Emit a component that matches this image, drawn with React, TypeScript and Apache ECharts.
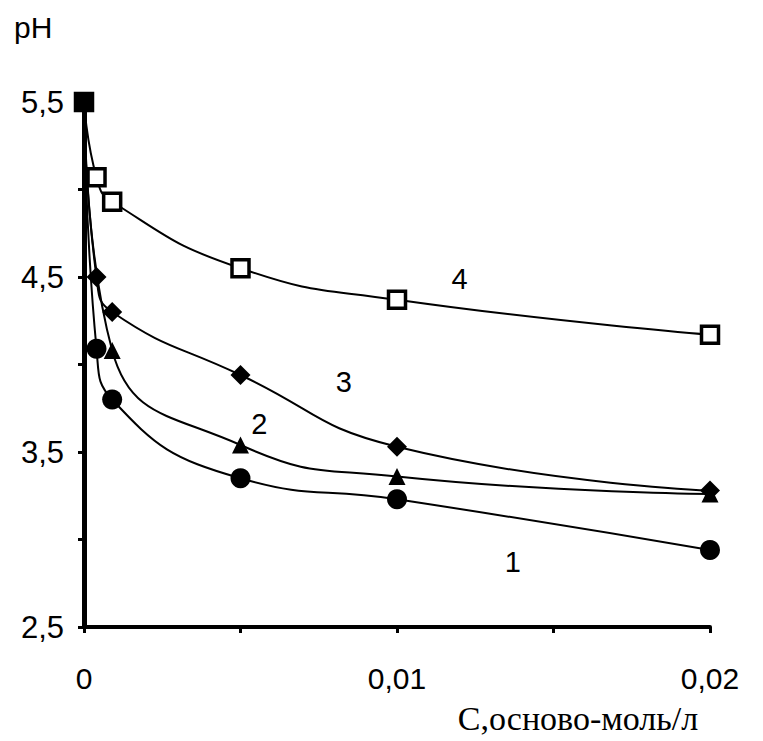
import React, { useEffect, useRef } from "react";
import * as echarts from "echarts";

// concentration, mol/L
const conc1 = [0, 0.0004, 0.0009, 0.005, 0.01, 0.02];
const ph1 = [5.5, 4.09, 3.8, 3.35, 3.23, 2.94];

const conc2 = [0, 0.0009, 0.005, 0.01, 0.02];
const ph2 = [5.5, 4.08, 3.54, 3.36, 3.26];

const conc3 = [0, 0.0004, 0.0009, 0.005, 0.01, 0.02];
const ph3 = [5.5, 4.5, 4.3, 3.94, 3.53, 3.28];

const conc4 = [0, 0.0004, 0.0009, 0.005, 0.01, 0.02];
const ph4 = [5.5, 5.07, 4.93, 4.55, 4.37, 4.17];

const curveNames = ["1", "2", "3", "4"];
// where each curve number is written (data coords)
const curveLabelPos: [number, number][] = [
  [0.0137, 2.87],
  [0.0056, 3.66],
  [0.0083, 3.9],
  [0.012, 4.49],
];

const yLabelValues = [2.5, 3.5, 4.5, 5.5];
const xLabelValues = [0, 0.01, 0.02];

const pair = (xs: number[], ys: number[]) => xs.map((x, i) => [x, ys[i]]);

export default function App() {
  const ref = useRef<HTMLDivElement>(null);
  useEffect(() => {
    document.body.style.margin = "0";
    const chart = echarts.init(ref.current!, undefined, { renderer: "svg" });
    const sans = "'Liberation Sans', Arial, sans-serif";
    const lineStyle = { color: "#000", width: 2 };
    const smooth = 0.5;
    const series: any[] = [
      {
        type: "line",
        data: pair(conc4, ph4).map((d, i) =>
          i === 0 ? { value: d, itemStyle: { color: "#000" } } : d
        ),
        smooth,
        symbol: "rect",
        symbolSize: 17,
        lineStyle,
        itemStyle: { color: "#fff", borderColor: "#000", borderWidth: 3.5 },
        z: 2,
      },
      {
        type: "line",
        data: pair(conc3, ph3),
        smooth,
        symbol: "diamond",
        symbolSize: 20,
        lineStyle,
        itemStyle: { color: "#000" },
        z: 3,
      },
      {
        type: "line",
        data: pair(conc2, ph2),
        smooth,
        symbol: "triangle",
        symbolSize: 17,
        lineStyle,
        itemStyle: { color: "#000" },
        z: 4,
      },
      {
        type: "line",
        data: pair(conc1, ph1),
        smooth,
        symbol: "circle",
        symbolSize: 20,
        lineStyle,
        itemStyle: { color: "#000" },
        z: 5,
      },
    ];

    const option: any = {
      animation: false,
      backgroundColor: "#fff",
      grid: { left: 84, top: 102, width: 626, height: 525, containLabel: false },
      xAxis: {
        type: "value",
        min: 0,
        max: 0.02,
        interval: 0.005,
        splitLine: { show: false },
        axisLine: { show: true, onZero: false, lineStyle: { color: "#000", width: 4 } },
        axisTick: { show: true, length: 6, lineStyle: { color: "#000", width: 3 } },
        axisLabel: {
          margin: 36,
          fontSize: 30,
          color: "#000",
          fontFamily: sans,
          formatter: (v: number) => {
            const hit = xLabelValues.find((x) => Math.abs(x - v) < 1e-9);
            return hit === undefined ? "" : String(hit).replace(".", ",");
          },
        },
      },
      yAxis: {
        type: "value",
        min: 2.5,
        max: 5.5,
        interval: 0.5,
        splitLine: { show: false },
        axisLine: { show: true, onZero: false, lineStyle: { color: "#000", width: 5 } },
        axisTick: { show: true, length: 6, lineStyle: { color: "#000", width: 3 } },
        axisLabel: {
          margin: 20,
          fontSize: 31,
          color: "#000",
          fontFamily: sans,
          formatter: (v: number) => {
            const hit = yLabelValues.find((y) => Math.abs(y - v) < 1e-9);
            return hit === undefined ? "" : String(hit).replace(".", ",");
          },
        },
      },
      series,
    };
    chart.setOption(option);

    const graphics: any[] = [
      {
        type: "text",
        left: 14,
        top: 12,
        style: { text: "pH", font: `30px ${sans}`, fill: "#000" },
      },
      {
        type: "text",
        x: 578,
        y: 718,
        style: {
          text: "С,осново-моль/л",
          font: `34px 'Liberation Serif', 'Times New Roman', serif`,
          fill: "#000",
          align: "center",
          verticalAlign: "middle",
        },
      },
    ];
    curveNames.forEach((n, i) => {
      const p = chart.convertToPixel({ gridIndex: 0 }, curveLabelPos[i]) as number[];
      graphics.push({
        type: "text",
        x: p[0],
        y: p[1],
        style: {
          text: n,
          font: `29px ${sans}`,
          fill: "#000",
          align: "center",
          verticalAlign: "middle",
        },
      });
    });
    chart.setOption({ graphic: graphics });

    return () => chart.dispose();
  }, []);
  return <div ref={ref} style={{ width: 763, height: 741 }} />;
}
